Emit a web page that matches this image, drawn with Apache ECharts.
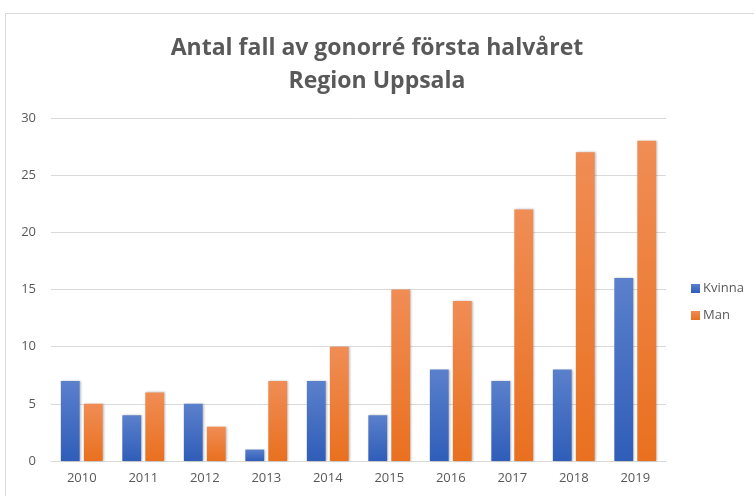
<!DOCTYPE html>
<html>
<head>
<meta charset="utf-8">
<script src="https://cdn.jsdelivr.net/npm/echarts@6/dist/echarts.min.js"></script>
<style>
  html, body { margin: 0; padding: 0; background: #fff; }
  #chart { width: 754px; height: 496px; }
</style>
</head>
<body>
<div id="chart"></div>
<script>
// data
var years = ['2010', '2011', '2012', '2013', '2014', '2015', '2016', '2017', '2018', '2019'];
var kvinna = [7, 4, 5, 1, 7, 4, 8, 7, 8, 16];
var man = [5, 6, 3, 7, 10, 15, 14, 22, 27, 28];

var myChart = echarts.init(document.getElementById('chart'));

function grad(top, bottom) {
  return new echarts.graphic.LinearGradient(0, 0, 0, 1, [
    { offset: 0, color: top },
    { offset: 1, color: bottom }
  ]);
}

var option = {
  backgroundColor: '#fff',
  animation: false,
  graphic: [{
    type: 'rect',
    shape: { x: 5.5, y: 13.5, width: 800, height: 600 },
    style: { fill: 'none', stroke: '#d9d9d9', lineWidth: 1 },
    silent: true
  }],
  title: {
    text: 'Antal fall av gonorré första halvåret\nRegion Uppsala',
    left: 'center',
    top: 27,
    textStyle: {
      fontFamily: 'Open Sans',
      fontWeight: 'bold',
      fontSize: 23,
      lineHeight: 33,
      color: '#595959'
    }
  },
  legend: {
    orient: 'vertical',
    left: 686,
    top: 277,
    itemWidth: 9,
    itemHeight: 9,
    itemGap: 14,
    icon: 'rect',
    textStyle: { fontFamily: 'Open Sans', fontSize: 13, color: '#595959', padding: [0, 0, 0, -2] },
    data: ['Kvinna', 'Man']
  },
  grid: {
    left: 51,
    right: 88,
    top: 118,
    bottom: 35
  },
  xAxis: {
    type: 'category',
    data: years,
    axisLine: { lineStyle: { color: '#d9d9d9' } },
    axisTick: { show: false },
    axisLabel: { fontFamily: 'Open Sans', fontSize: 13, color: '#595959', margin: 11 }
  },
  yAxis: {
    type: 'value',
    min: 0,
    max: 30,
    interval: 5,
    axisLine: { show: false },
    axisTick: { show: false },
    splitLine: { lineStyle: { color: '#d9d9d9' } },
    axisLabel: { fontFamily: 'Open Sans', fontSize: 13, color: '#595959', margin: 15 }
  },
  series: [{
    name: 'Kvinna',
    type: 'bar',
    data: kvinna,
    barGap: '22%',
    barCategoryGap: '32%',
    itemStyle: {
      color: grad('#5b80cc', '#2f5db8'),
      shadowColor: 'rgba(0,0,0,0.25)',
      shadowBlur: 2,
      shadowOffsetX: 1
    }
  }, {
    name: 'Man',
    type: 'bar',
    data: man,
    itemStyle: {
      color: grad('#f08d55', '#e9701f'),
      shadowColor: 'rgba(0,0,0,0.25)',
      shadowBlur: 2,
      shadowOffsetX: 1
    }
  }],
  color: ['#4472c4', '#ed7d31']
};

myChart.setOption(option);
</script>
</body>
</html>
